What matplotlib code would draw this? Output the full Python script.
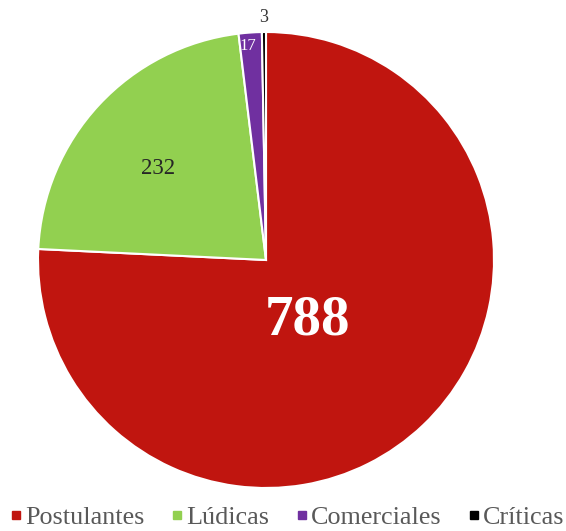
import numpy as np
import matplotlib.pyplot as plt
from matplotlib.lines import Line2D

categories = ['Postulantes', 'Lúdicas', 'Comerciales', 'Críticas']
values = [788, 232, 17, 3]
colors = ['#C0150F', '#92D050', '#7030A0', '#000000']

plt.rcParams['font.family'] = ['Liberation Serif', 'DejaVu Serif']

fig = plt.figure(figsize=(5.66, 5.31), dpi=100)
# pie centred at (266, 260) px with a 228 px radius
cx, cy, r = 266, 260, 228
ax = fig.add_axes([(cx - r) / 566, (531 - cy - r) / 531, 2 * r / 566, 2 * r / 531])
wedges, _ = ax.pie(values, colors=colors, startangle=90, counterclock=False,
                   radius=1, wedgeprops=dict(edgecolor='white', linewidth=1.5))
ax.set_xlim(-1, 1)
ax.set_ylim(-1, 1)
ax.set_aspect('equal')
ax.axis('off')

# label style per slice: (radial distance, angle tweak, size, colour, weight)
lab = [(0.32, -9, 41, 'white', 'bold'),
       (0.62, 2.6, 16.5, '#262626', 'normal'),
       (0.94, 1, 12, 'white', 'normal'),
       (1.065, 0, 13, '#333333', 'normal')]
for w, v, (d, tw, fs, c, fw) in zip(wedges, values, lab):
    a = np.deg2rad((w.theta1 + w.theta2) / 2 + tw)
    ax.text(d * np.cos(a), d * np.sin(a), str(v), ha='center', va='center',
            fontsize=fs, color=c, fontweight=fw, clip_on=False)

handles = [Line2D([], [], marker='s', linestyle='none', markersize=5.5,
                  markerfacecolor=c, markeredgecolor=c) for c in colors]
fig.legend(handles, categories, loc='lower center', ncol=4, frameon=False,
           bbox_to_anchor=(0.508, -0.041), fontsize=18.8, labelcolor='#595959',
           handlelength=0.4, handletextpad=0.15, columnspacing=1.05)

fig.savefig('out.png', dpi=100)
